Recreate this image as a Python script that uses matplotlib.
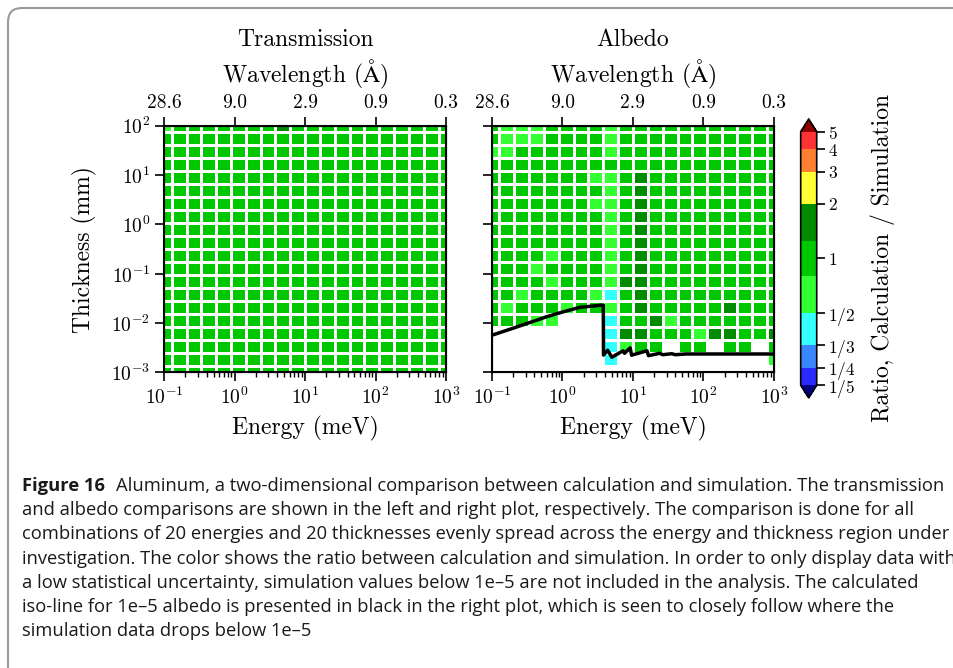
import numpy as np
import matplotlib
matplotlib.use("Agg")
import matplotlib.pyplot as plt
from matplotlib.colors import ListedColormap, BoundaryNorm
from matplotlib.patches import FancyBboxPatch
from matplotlib.transforms import IdentityTransform

# grid of the comparison: 20 energies x 20 thicknesses, evenly spread in log
energy_meV = np.logspace(-1, 3, 20)
thickness_mm = np.logspace(-3, 2, 20)

# ratio classes (top row = thickest)
# L ~ light green, G ~ green, D ~ dark green, C ~ cyan, . = not included
ratio_of = {"L": 0.65, "G": 1.0, "D": 1.6, "C": 0.4, ".": np.nan}

transmission_codes = [
    "LGGGGGGGDGGGGGGGGGGG",
] + ["GGGGGGGGGGGGGGGGGGGG"] * 19

albedo_codes = [
    "GLLLGGGGLGGGGGGGGGGG",
    "GLLLGGGGLGGGGGGGGGGG",
    "LLGGGGGGLGGGGGGGGGGG",
    "GGGGGGGGGGGGGGGGGGGG",
    "GGGGGGGLLGDGGGGGGGGG",
    "GGGGGGGGLGDGGGGGGGGG",
    "GGGGGGGLLGDGGGGGGGGG",
    "GGGGGGGGLGDGGGGGGGGG",
    "GGGGGGGGLGDGGGGGGGGG",
    "GGGGGGGGLGDGGGGGGGGG",
    "GGGGLGGGLGDGGGGGGGGG",
    "GGGLGGGGLGDGGGGGGGGG",
    "GGGGLGGGLDDGGGGGGGGG",
    "GGLGGGGLCGDGGGGGGGGG",
    "GLGGGLGGLGDGGGGGDGGG",
    "GGGLL...CGGDLGGGGGGG",
    "........CDDGGGLDDGGD",
    "........CLGG.GG.GG.G",
    "........C..........L",
    "....................",
]

# calculated 1e-5 albedo iso-line
iso_energy = [0.1, 0.2, 0.6, 1.03, 1.77, 3.79, 3.82, 4.37, 5.01, 7.24, 7.59,
              9.12, 9.55, 12.6, 15.8, 16.6, 24.0, 26.3, 35.5, 39.8, 56.2, 1000]
iso_thickness = [5.7e-3, 7.9e-3, 1.35e-2, 1.70e-2, 2.09e-2, 2.33e-2, 2.25e-3,
                 2.82e-3, 2.04e-3, 2.75e-3, 2.45e-3, 3.16e-3, 2.24e-3, 2.51e-3,
                 2.75e-3, 2.19e-3, 2.45e-3, 2.29e-3, 2.40e-3, 2.29e-3, 2.37e-3,
                 2.37e-3]

wavelength_labels = ["28.6", "9.0", "2.9", "0.9", "0.3"]
energy_ticks = [0.1, 1, 10, 100, 1000]

levels = [1 / 5, 1 / 4, 1 / 3, 1 / 2, 0.8, 1.25, 2, 3, 4, 5]
level_colors = ["#2a2aff", "#3a86ff", "#33ffff", "#33ff33", "#00c800",
                "#008c00", "#ffff33", "#ff8030", "#ff3333"]
cbar_ticks = [1 / 5, 1 / 4, 1 / 3, 1 / 2, 1, 2, 3, 4, 5]
cbar_labels = ["$1/5$", "$1/4$", "$1/3$", "$1/2$", "$1$", "$2$", "$3$", "$4$", "$5$"]

caption_lines = [
    "and albedo comparisons are shown in the left and right plot, respectively. The comparison is done for all",
    "combinations of 20 energies and 20 thicknesses evenly spread across the energy and thickness region under",
    "investigation. The color shows the ratio between calculation and simulation. In order to only display data with",
    "a low statistical uncertainty, simulation values below 1e\u20135 are not included in the analysis. The calculated",
    "iso-line for 1e\u20135 albedo is presented in black in the right plot, which is seen to closely follow where the",
    "simulation data drops below 1e\u20135",
]

plt.rcParams["font.family"] = "serif"
plt.rcParams["font.serif"] = ["cmr10"]
plt.rcParams["mathtext.fontset"] = "cm"
plt.rcParams["axes.formatter.use_mathtext"] = True


def log_edges(centers):
    lc = np.log10(centers)
    d = lc[1] - lc[0]
    return 10 ** np.concatenate([lc - d / 2, [lc[-1] + d / 2]])


def codes_to_log_ratio(codes):
    z = np.array([[ratio_of[c] for c in row] for row in codes[::-1]])
    return np.log(z)


cmap = ListedColormap(level_colors)
cmap.set_under("#000080")
cmap.set_over("#8b0000")
norm = BoundaryNorm(np.log(levels), cmap.N)

fig = plt.figure(figsize=(9.54, 6.68), dpi=100)

ax1 = fig.add_axes([0.1722, 0.4424, 0.2953, 0.3693])
ax2 = fig.add_axes([0.5157, 0.4424, 0.2956, 0.3693])
cax = fig.add_axes([0.8393, 0.4042, 0.0168, 0.4177])

xe = log_edges(energy_meV)
ye = log_edges(thickness_mm)

for ax, codes, title, cx in [(ax1, transmission_codes, "Transmission", 305),
                             (ax2, albedo_codes, "Albedo", 633)]:
    mesh = ax.pcolormesh(xe, ye, codes_to_log_ratio(codes), cmap=cmap, norm=norm,
                         edgecolors="white", linewidth=1.8)
    ax.set_xscale("log")
    ax.set_yscale("log")
    ax.set_xlim(0.1, 1000)
    ax.set_ylim(1e-3, 1e2)
    ax.set_xticks(energy_ticks)
    ax.set_yticks([1e-3, 1e-2, 1e-1, 1, 10, 100])
    ax.yaxis.set_minor_locator(matplotlib.ticker.NullLocator())
    ax.tick_params(which="major", length=6.5, width=1.2, labelsize=14)
    ax.tick_params(which="minor", length=3.5, width=1.0)
    for s in ax.spines.values():
        s.set_linewidth(1.5)
    ax.set_xlabel("Energy (meV)", fontsize=17, labelpad=6)

    top = ax.twiny()
    top.set_xscale("log")
    top.set_xlim(0.1, 1000)
    top.set_xticks(energy_ticks)
    top.set_xticklabels(wavelength_labels)
    top.xaxis.set_minor_locator(matplotlib.ticker.NullLocator())
    top.tick_params(which="major", length=6.5, width=1.2, labelsize=14)
    top.set_xlabel(r"Wavelength ($\mathrm{\AA}$)", fontsize=17, labelpad=8)
    fig.text(cx / 954, 1 - 40 / 668, title, fontsize=17, ha="center", va="center")

ax1.set_ylabel("Thickness (mm)", fontsize=17, labelpad=10)
ax2.set_yticklabels([])

ax2.plot(iso_energy, iso_thickness, color="black", linewidth=2.5)

cb = fig.colorbar(mesh, cax=cax, extend="both", spacing="proportional")
cb.set_ticks(np.log(cbar_ticks))
cb.set_ticklabels(cbar_labels)
cb.ax.minorticks_off()
cb.ax.tick_params(length=6, width=1.2, labelsize=12.5, pad=2)
cb.outline.set_linewidth(1.2)
cb.set_label("Ratio, Calculation / Simulation", fontsize=17, labelpad=11)

# caption frame
frame = FancyBboxPatch((8, -60), 1000, 720, boxstyle="round,pad=0,rounding_size=14",
                       transform=IdentityTransform(), facecolor="none",
                       edgecolor="#9a9a9a", linewidth=1.5)
fig.patches.append(frame)

cap_size = 13.2
x0 = 22 / 954
y0 = 1 - 486 / 668
bold = fig.text(x0, y0, "Figure 16", fontsize=cap_size, fontweight="bold",
                family="Open Sans", va="center", color="#1a1a1a")
fig.canvas.draw()
bb = bold.get_window_extent()
fig.text((bb.x1 + 11) / 954, y0,
         "Aluminum, a two-dimensional comparison between calculation and simulation. The transmission",
         fontsize=cap_size, family="Open Sans", va="center", color="#1a1a1a")
for k, line in enumerate(caption_lines):
    fig.text(x0, y0 - (k + 1) * 24.2 / 668, line, fontsize=cap_size,
             family="Open Sans", va="center", color="#1a1a1a")

fig.savefig("out.png", dpi=100)
